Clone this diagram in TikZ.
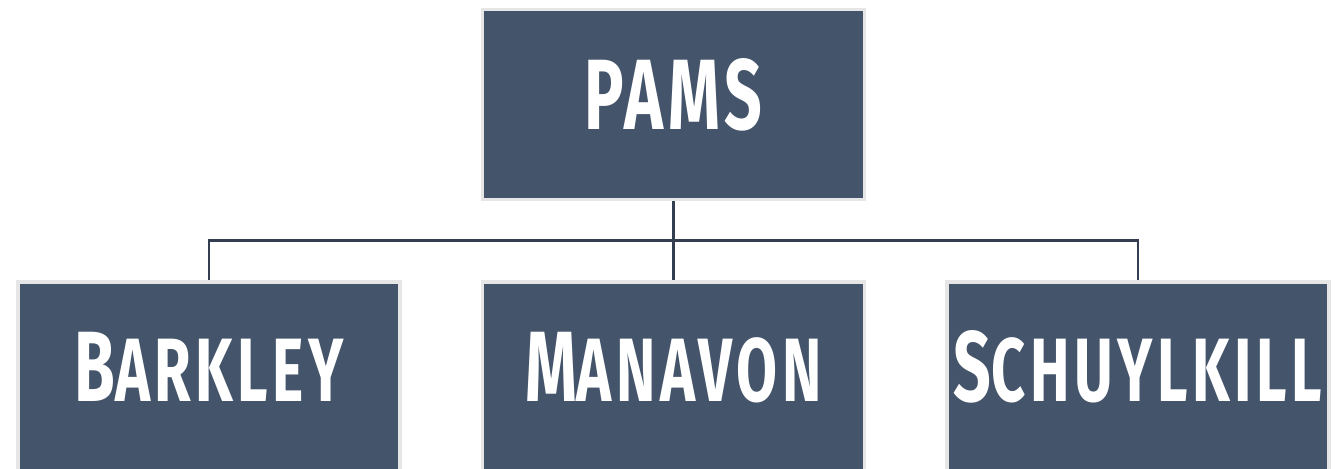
\documentclass[tikz,border=0pt]{standalone}
\usepackage{fontspec}
\setmainfont[FakeStretch=0.66, LetterSpace=5]{Fira Sans}
\usetikzlibrary{positioning}
\definecolor{mslate}{HTML}{44546A}
\definecolor{medge}{HTML}{E7E6E6}
\definecolor{mline}{HTML}{333F50}
\newcommand{\lowcaps}[1]{{\fontsize{45}{45}\selectfont #1}}
\tikzstyle{school} = [rectangle, minimum width=191pt, minimum height=95pt, line width=1.7pt, draw=medge, fill=mslate, text=white, text height=35pt, text depth=10pt, font=\fontsize{50}{50}\selectfont\bfseries]
\tikzstyle{link} = [line width=1.4pt, draw=mline]

\begin{document}
\begin{tikzpicture}[node distance=39.5pt]
\useasboundingbox (-336.75pt,52.25pt) rectangle (334.25pt,-182.25pt);
%District
\node (pams) [school] {PAMS};
%Schools
\node (manavon) [school, below = of pams] {M\lowcaps{ANAVON}};
\node (barkley) [school, left = of manavon] {B\lowcaps{ARKLEY}};
\node (schuylkill) [school, right = of manavon] {S\lowcaps{CHUYLKILL}};
\draw [link] (pams) -- (manavon);
\draw [link] (pams.south) -- ++(0,-19.5pt) -| (barkley);
\draw [link] (pams.south) -- ++(0,-19.5pt) -| (schuylkill);
\end{tikzpicture}
\end{document}
